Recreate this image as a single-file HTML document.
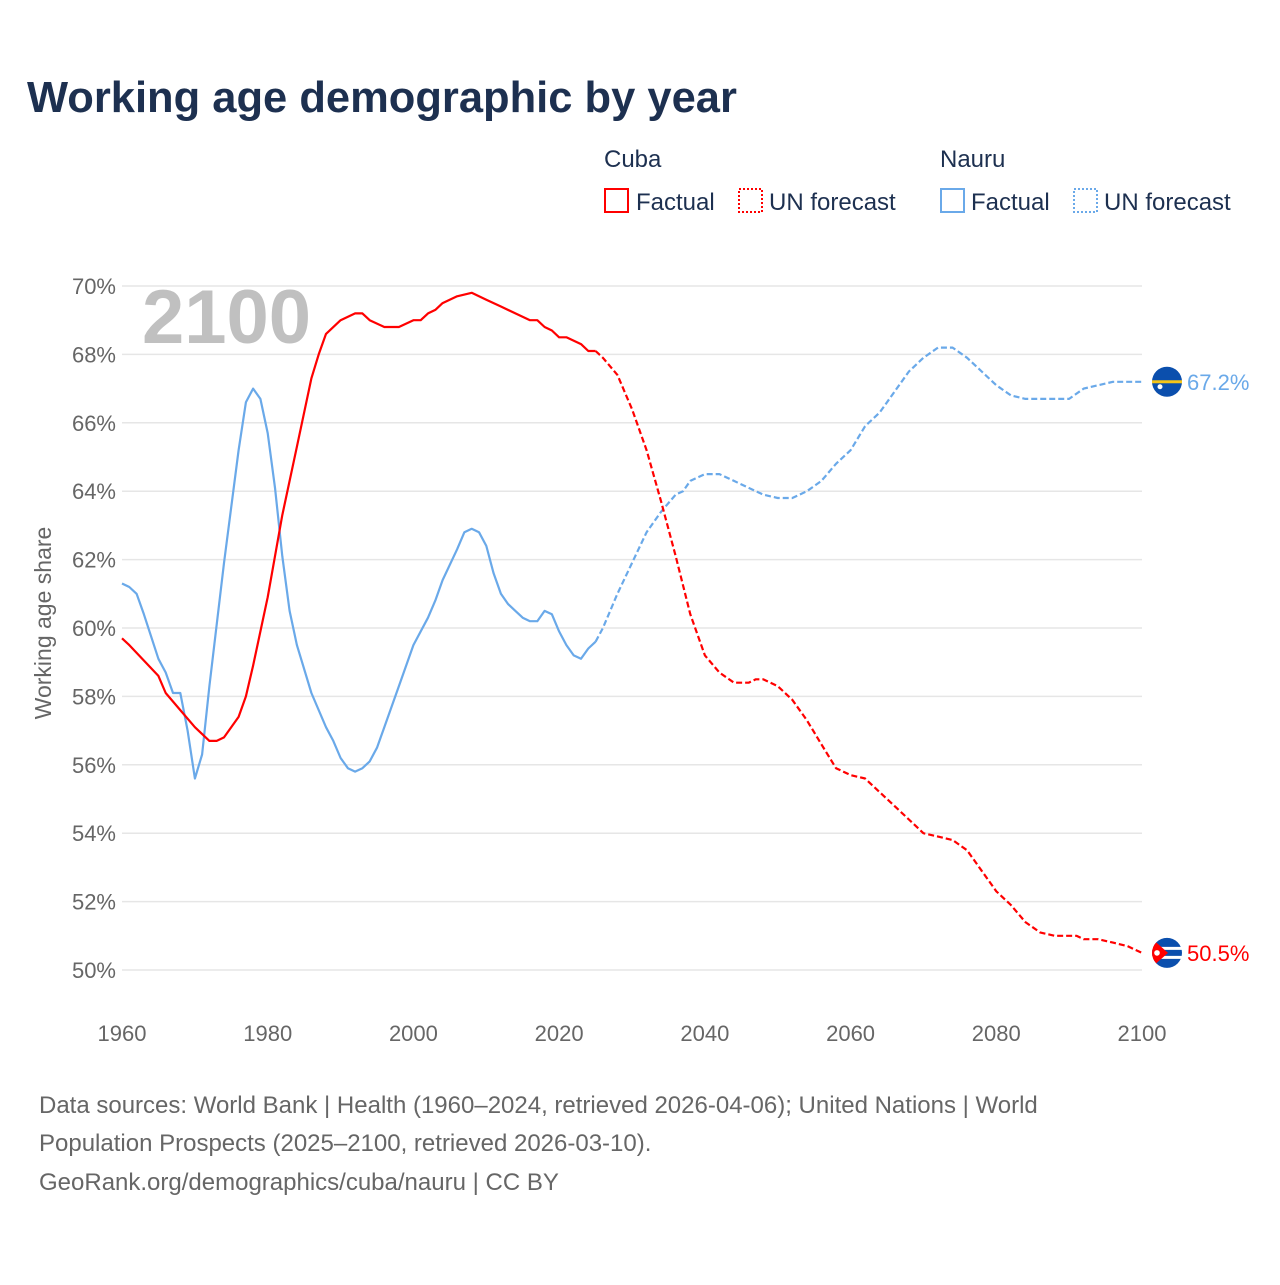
<!DOCTYPE html>
<html><head><meta charset="utf-8"><style>
body{margin:0;background:#fff;width:1280px;height:1280px;overflow:hidden;font-family:"Liberation Sans",sans-serif}
</style></head><body>
<svg id="chart" width="1280" height="1280" xmlns="http://www.w3.org/2000/svg" font-family="Liberation Sans, sans-serif">
<defs><clipPath id="cubaClip"><circle cx="1167" cy="953" r="15"/></clipPath></defs>
<text x="27" y="112" font-size="43.5" font-weight="bold" fill="#1d3050">Working age demographic by year</text>
<g font-size="24" fill="#1d3050">
<text x="604" y="167">Cuba</text>
<rect x="605" y="189" width="23" height="23" fill="none" stroke="#ff0000" stroke-width="2"/>
<text x="636" y="210">Factual</text>
<rect x="739" y="189" width="23" height="23" fill="none" stroke="#ff0000" stroke-width="2" stroke-dasharray="2 2"/>
<text x="769" y="210">UN forecast</text>
<text x="940" y="167">Nauru</text>
<rect x="941" y="189" width="23" height="23" fill="none" stroke="#6aa9e9" stroke-width="2"/>
<text x="971" y="210">Factual</text>
<rect x="1074" y="189" width="23" height="23" fill="none" stroke="#6aa9e9" stroke-width="2" stroke-dasharray="2 2"/>
<text x="1104" y="210">UN forecast</text>
</g>
<g id="grid"></g>
<text x="142" y="343" font-size="76" font-weight="bold" fill="#c0c0c0">2100</text>
<text transform="translate(51,623) rotate(-90)" text-anchor="middle" font-size="23" fill="#666">Working age share</text>
<g id="series"></g>
<g font-size="24" fill="#666">
<text x="39" y="1113">Data sources: World Bank | Health (1960–2024, retrieved 2026-04-06); United Nations | World</text>
<text x="39" y="1151">Population Prospects (2025–2100, retrieved 2026-03-10).</text>
<text x="39" y="1190">GeoRank.org/demographics/cuba/nauru | CC BY</text>
</g>
</svg>
<script>
const yTicks=[50,52,54,56,58,60,62,64,66,68,70];
const xTicks=[1960,1980,2000,2020,2040,2060,2080,2100];
const cubaYears=[1960,1961,1965,1966,1968,1970,1972,1973,1974,1976,1977,1978,1980,1982,1984,1986,1987,1988,1990,1992,1993,1994,1996,1998,2000,2001,2002,2003,2004,2006,2008,2010,2012,2014,2016,2017,2018,2019,2020,2021,2023,2024,2025];
const cubaValues=[59.7,59.5,58.6,58.1,57.6,57.1,56.7,56.7,56.8,57.4,58.0,58.9,60.9,63.3,65.3,67.3,68.0,68.6,69.0,69.2,69.2,69.0,68.8,68.8,69.0,69.0,69.2,69.3,69.5,69.7,69.8,69.6,69.4,69.2,69.0,69.0,68.8,68.7,68.5,68.5,68.3,68.1,68.1];
const cubaFcYears=[2025,2026,2028,2030,2032,2034,2036,2038,2040,2042,2044,2046,2047,2048,2050,2052,2054,2056,2058,2060,2062,2064,2066,2068,2070,2072,2074,2076,2078,2080,2082,2084,2086,2088,2090,2091,2092,2094,2096,2098,2100];
const cubaFcValues=[68.1,67.9,67.4,66.4,65.2,63.7,62.1,60.4,59.2,58.7,58.4,58.4,58.5,58.5,58.3,57.9,57.3,56.6,55.9,55.7,55.6,55.2,54.8,54.4,54.0,53.9,53.8,53.5,52.9,52.3,51.9,51.4,51.1,51.0,51.0,51.0,50.9,50.9,50.8,50.7,50.5];
const nauruYears=[1960,1961,1962,1963,1965,1966,1967,1968,1969,1970,1971,1972,1974,1976,1977,1978,1979,1980,1981,1982,1983,1984,1986,1988,1989,1990,1991,1992,1993,1994,1995,1996,1998,2000,2002,2003,2004,2006,2007,2008,2009,2010,2011,2012,2013,2014,2015,2016,2017,2018,2019,2020,2021,2022,2023,2024,2025];
const nauruValues=[61.3,61.2,61.0,60.4,59.1,58.7,58.1,58.1,57.0,55.6,56.3,58.3,61.9,65.2,66.6,67.0,66.7,65.7,64.1,62.1,60.5,59.5,58.1,57.1,56.7,56.2,55.9,55.8,55.9,56.1,56.5,57.1,58.3,59.5,60.3,60.8,61.4,62.3,62.8,62.9,62.8,62.4,61.6,61.0,60.7,60.5,60.3,60.2,60.2,60.5,60.4,59.9,59.5,59.2,59.1,59.4,59.6];
const nauruFcYears=[2025,2026,2028,2030,2032,2034,2036,2037,2038,2040,2042,2044,2046,2048,2050,2052,2054,2056,2058,2060,2062,2064,2066,2068,2070,2072,2074,2076,2078,2080,2082,2084,2086,2088,2090,2092,2094,2096,2098,2100];
const nauruFcValues=[59.6,60.0,61.0,61.9,62.8,63.4,63.9,64.0,64.3,64.5,64.5,64.3,64.1,63.9,63.8,63.8,64.0,64.3,64.8,65.2,65.9,66.3,66.9,67.5,67.9,68.2,68.2,67.9,67.5,67.1,66.8,66.7,66.7,66.7,66.7,67.0,67.1,67.2,67.2,67.2];

const NS="http://www.w3.org/2000/svg";
const xS=y=>122+(y-1960)*(1020/140);
const yS=v=>970-(v-50)*(684/20);
function mk(tag,attrs,parent){const e=document.createElementNS(NS,tag);for(const k in attrs)e.setAttribute(k,attrs[k]);parent.appendChild(e);return e;}
const grid=document.getElementById('grid');
yTicks.forEach(t=>{
  const l=mk('line',{x1:122,x2:1142,y1:yS(t),y2:yS(t),stroke:'#e6e6e6','stroke-width':1.5},grid);
  
  
  const tx=mk('text',{x:116,y:yS(t)+8,'text-anchor':'end','font-size':22,fill:'#666'},grid);
  tx.textContent=t+'%';
  
  
});
xTicks.forEach(t=>{
  const tx=mk('text',{x:xS(t),y:1041,'text-anchor':'middle','font-size':22,fill:'#666'},grid);
  tx.textContent=t;
  
  
});
const ser=document.getElementById('series');
function line(xs,vs,color,dash,name){
  const d=xs.map((y,i)=>(i?'L':'M')+xS(y).toFixed(1)+','+yS(vs[i]).toFixed(1)).join('');
  const p=mk('path',{d:d,fill:'none',stroke:color,'stroke-width':2.2,'stroke-linejoin':'round'},ser);
  if(dash)p.setAttribute('stroke-dasharray','6 3');
  
  
}
line(nauruYears,nauruValues,'#6aa9e9',false,'nauru-factual-line');
line(nauruFcYears,nauruFcValues,'#6aa9e9',true,'nauru-forecast-line');
line(cubaYears,cubaValues,'#ff0000',false,'cuba-factual-line');
line(cubaFcYears,cubaFcValues,'#ff0000',true,'cuba-forecast-line');
const nv=nauruFcValues[nauruFcValues.length-1], cv=cubaFcValues[cubaFcValues.length-1];
const ny=yS(nv), cy=yS(cv);
const nf=mk('g',{},ser);


mk('circle',{cx:1167,cy:ny,r:15,fill:'#0b4fad'},nf);
mk('rect',{x:1152,y:ny-1.5,width:30,height:3,fill:'#f5c518'},nf);
mk('circle',{cx:1160,cy:ny+5,r:2.5,fill:'#fff'},nf);
const nl=mk('text',{x:1187,y:ny+8,'font-size':22,fill:'#6aa9e9'},ser);
nl.textContent=nv.toFixed(1)+'%';


document.querySelector('#cubaClip circle').setAttribute('cy',cy);
const cf=mk('g',{'clip-path':'url(#cubaClip)'},ser);


mk('rect',{x:1150,y:cy-16,width:34,height:32,fill:'#fff'},cf);
mk('path',{d:`M1150,${cy-16}h34v10h-34zM1150,${cy-3}h34v6h-34zM1150,${cy+6}h34v10h-34z`,fill:'#0b4fad'},cf);
mk('path',{d:`M1150,${cy-16}L1168,${cy}L1150,${cy+16}Z`,fill:'#ff0000'},cf);
mk('circle',{cx:1157,cy:cy,r:2.8,fill:'#fff'},cf);
const cl=mk('text',{x:1187,y:cy+8,'font-size':22,fill:'#ff0000'},ser);
cl.textContent=cv.toFixed(1)+'%';


</script>
</body></html>
